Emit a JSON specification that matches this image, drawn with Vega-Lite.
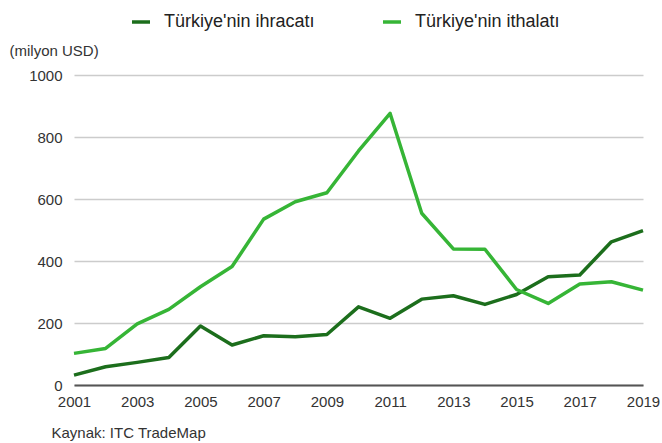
{
  "$schema": "https://vega.github.io/schema/vega-lite/v6.json",
  "autosize": "none",
  "width": 569,
  "height": 310,
  "padding": {"left": 74, "top": 75, "right": 19, "bottom": 58},
  "background": "white",
  "config": {
    "font": "Liberation Sans",
    "view": {"stroke": null}
  },
  "data": {
    "values": [
      {"year": 2001, "series": "Türkiye'nin ihracatı", "value": 32},
      {"year": 2002, "series": "Türkiye'nin ihracatı", "value": 59},
      {"year": 2003, "series": "Türkiye'nin ihracatı", "value": 73},
      {"year": 2004, "series": "Türkiye'nin ihracatı", "value": 89},
      {"year": 2005, "series": "Türkiye'nin ihracatı", "value": 190},
      {"year": 2006, "series": "Türkiye'nin ihracatı", "value": 129},
      {"year": 2007, "series": "Türkiye'nin ihracatı", "value": 159},
      {"year": 2008, "series": "Türkiye'nin ihracatı", "value": 156},
      {"year": 2009, "series": "Türkiye'nin ihracatı", "value": 163},
      {"year": 2010, "series": "Türkiye'nin ihracatı", "value": 252},
      {"year": 2011, "series": "Türkiye'nin ihracatı", "value": 215},
      {"year": 2012, "series": "Türkiye'nin ihracatı", "value": 277},
      {"year": 2013, "series": "Türkiye'nin ihracatı", "value": 288},
      {"year": 2014, "series": "Türkiye'nin ihracatı", "value": 260},
      {"year": 2015, "series": "Türkiye'nin ihracatı", "value": 292},
      {"year": 2016, "series": "Türkiye'nin ihracatı", "value": 349},
      {"year": 2017, "series": "Türkiye'nin ihracatı", "value": 355},
      {"year": 2018, "series": "Türkiye'nin ihracatı", "value": 462},
      {"year": 2019, "series": "Türkiye'nin ihracatı", "value": 498},
      {"year": 2001, "series": "Türkiye'nin ithalatı", "value": 102},
      {"year": 2002, "series": "Türkiye'nin ithalatı", "value": 118},
      {"year": 2003, "series": "Türkiye'nin ithalatı", "value": 197},
      {"year": 2004, "series": "Türkiye'nin ithalatı", "value": 244},
      {"year": 2005, "series": "Türkiye'nin ithalatı", "value": 317},
      {"year": 2006, "series": "Türkiye'nin ithalatı", "value": 382},
      {"year": 2007, "series": "Türkiye'nin ithalatı", "value": 535},
      {"year": 2008, "series": "Türkiye'nin ithalatı", "value": 591},
      {"year": 2009, "series": "Türkiye'nin ithalatı", "value": 620},
      {"year": 2010, "series": "Türkiye'nin ithalatı", "value": 755},
      {"year": 2011, "series": "Türkiye'nin ithalatı", "value": 876},
      {"year": 2012, "series": "Türkiye'nin ithalatı", "value": 554},
      {"year": 2013, "series": "Türkiye'nin ithalatı", "value": 439},
      {"year": 2014, "series": "Türkiye'nin ithalatı", "value": 438},
      {"year": 2015, "series": "Türkiye'nin ithalatı", "value": 308},
      {"year": 2016, "series": "Türkiye'nin ithalatı", "value": 263},
      {"year": 2017, "series": "Türkiye'nin ithalatı", "value": 326},
      {"year": 2018, "series": "Türkiye'nin ithalatı", "value": 333},
      {"year": 2019, "series": "Türkiye'nin ithalatı", "value": 306}
    ]
  },
  "mark": {"type": "line", "strokeWidth": 3.5, "strokeJoin": "round"},
  "encoding": {
    "x": {
      "field": "year",
      "type": "quantitative",
      "scale": {"domain": [2001, 2019], "nice": false, "zero": false},
      "axis": {
        "values": [2001, 2003, 2005, 2007, 2009, 2011, 2013, 2015, 2017, 2019],
        "format": "d",
        "grid": false,
        "ticks": false,
        "domainColor": "#555555",
        "domainWidth": 2,
        "labelFontSize": 15,
        "labelColor": "#333333",
        "labelPadding": 9,
        "labelFlush": false,
        "title": "Kaynak: ITC TradeMap",
        "titleFontSize": 15,
        "titleFontWeight": "normal",
        "titleColor": "#333333",
        "titleAnchor": "start",
        "titleAlign": "left",
        "titleBaseline": "middle",
        "titleX": -23,
        "titleY": 47
      }
    },
    "y": {
      "field": "value",
      "type": "quantitative",
      "scale": {"domain": [0, 1000], "nice": false},
      "axis": {
        "values": [0, 200, 400, 600, 800, 1000],
        "format": "d",
        "domain": false,
        "ticks": false,
        "gridColor": "#cccccc",
        "gridWidth": 1.5,
        "labelFontSize": 15,
        "labelColor": "#333333",
        "labelPadding": 12,
        "title": "(milyon USD)",
        "titleAngle": 0,
        "titleFontSize": 15,
        "titleFontWeight": "normal",
        "titleColor": "#333333",
        "titleAlign": "left",
        "titleBaseline": "middle",
        "titleX": -65,
        "titleY": -25
      }
    },
    "color": {
      "field": "series",
      "type": "nominal",
      "scale": {
        "domain": ["Türkiye'nin ihracatı", "Türkiye'nin ithalatı"],
        "range": ["#1c6e1c", "#36b536"]
      },
      "legend": {
        "title": null,
        "orient": "none",
        "direction": "horizontal",
        "legendX": 56,
        "legendY": -64,
        "symbolType": "stroke",
        "symbolSize": 324,
        "symbolStrokeWidth": 3.5,
        "labelFontSize": 18,
        "labelColor": "#222222",
        "labelOffset": 12,
        "columnPadding": 61,
        "labelLimit": 300
      }
    }
  }
}
